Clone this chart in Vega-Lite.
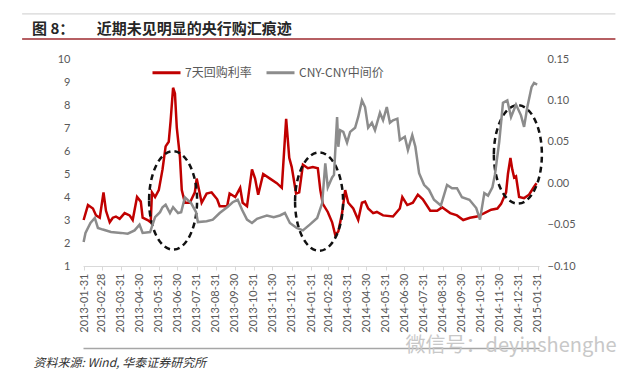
{
  "$schema": "https://vega.github.io/schema/vega-lite/v6.json",
  "width": 456,
  "height": 207,
  "autosize": {"type": "none"},
  "padding": {"left": 83, "top": 59, "right": 101, "bottom": 111},
  "background": "white",
  "title": {
    "text": "图 8：\u3000\u3000近期未见明显的央行购汇痕迹",
    "anchor": "start",
    "frame": "group",
    "dx": -51,
    "offset": -24,
    "font": "Noto Sans CJK SC",
    "fontSize": 15,
    "fontWeight": "bold",
    "color": "#262626"
  },
  "datasets": {
    "red": [
      {"date":"2013-01-30","v":3.0},{"date":"2013-02-06","v":3.65},{"date":"2013-02-14","v":3.5},{"date":"2013-02-19","v":3.2},{"date":"2013-02-25","v":3.1},{"date":"2013-03-03","v":4.2},{"date":"2013-03-07","v":3.4},{"date":"2013-03-13","v":2.9},{"date":"2013-03-18","v":3.1},{"date":"2013-03-23","v":3.15},{"date":"2013-03-29","v":3.05},{"date":"2013-04-06","v":3.3},{"date":"2013-04-14","v":3.2},{"date":"2013-04-19","v":3.0},{"date":"2013-04-26","v":4.0},{"date":"2013-05-02","v":3.8},{"date":"2013-05-05","v":3.1},{"date":"2013-05-13","v":3.0},{"date":"2013-05-18","v":2.9},{"date":"2013-05-20","v":4.2},{"date":"2013-05-25","v":4.0},{"date":"2013-05-31","v":4.3},{"date":"2013-06-06","v":5.2},{"date":"2013-06-11","v":6.2},{"date":"2013-06-16","v":6.4},{"date":"2013-06-19","v":7.3},{"date":"2013-06-23","v":8.75},{"date":"2013-06-26","v":8.5},{"date":"2013-06-29","v":7.0},{"date":"2013-07-04","v":5.75},{"date":"2013-07-07","v":4.3},{"date":"2013-07-12","v":3.75},{"date":"2013-07-20","v":3.75},{"date":"2013-07-28","v":4.2},{"date":"2013-07-31","v":4.8},{"date":"2013-08-08","v":3.75},{"date":"2013-08-16","v":4.15},{"date":"2013-08-24","v":4.2},{"date":"2013-09-02","v":3.9},{"date":"2013-09-06","v":3.6},{"date":"2013-09-18","v":3.6},{"date":"2013-09-22","v":4.15},{"date":"2013-10-01","v":4.0},{"date":"2013-10-09","v":4.4},{"date":"2013-10-13","v":3.75},{"date":"2013-10-20","v":3.6},{"date":"2013-10-28","v":5.2},{"date":"2013-11-02","v":4.8},{"date":"2013-11-07","v":4.1},{"date":"2013-11-15","v":5.0},{"date":"2013-11-26","v":4.8},{"date":"2013-12-07","v":4.6},{"date":"2013-12-15","v":4.4},{"date":"2013-12-22","v":7.4},{"date":"2013-12-27","v":5.7},{"date":"2013-12-31","v":5.3},{"date":"2014-01-07","v":4.15},{"date":"2014-01-12","v":4.2},{"date":"2014-01-18","v":5.4},{"date":"2014-01-26","v":5.25},{"date":"2014-02-03","v":5.3},{"date":"2014-02-11","v":5.25},{"date":"2014-02-15","v":4.3},{"date":"2014-02-19","v":3.7},{"date":"2014-02-27","v":3.35},{"date":"2014-03-06","v":2.9},{"date":"2014-03-11","v":2.35},{"date":"2014-03-16","v":2.5},{"date":"2014-03-22","v":3.3},{"date":"2014-03-27","v":4.3},{"date":"2014-04-01","v":3.75},{"date":"2014-04-09","v":3.5},{"date":"2014-04-17","v":3.0},{"date":"2014-04-23","v":3.75},{"date":"2014-04-28","v":3.8},{"date":"2014-05-03","v":3.5},{"date":"2014-05-11","v":3.3},{"date":"2014-05-17","v":3.35},{"date":"2014-05-27","v":3.2},{"date":"2014-06-12","v":3.15},{"date":"2014-06-23","v":3.5},{"date":"2014-06-27","v":4.0},{"date":"2014-07-05","v":3.65},{"date":"2014-07-14","v":3.75},{"date":"2014-07-22","v":4.1},{"date":"2014-07-30","v":3.9},{"date":"2014-08-11","v":3.4},{"date":"2014-08-22","v":3.4},{"date":"2014-08-30","v":3.55},{"date":"2014-09-12","v":3.3},{"date":"2014-09-23","v":3.2},{"date":"2014-10-03","v":3.0},{"date":"2014-10-14","v":3.1},{"date":"2014-10-25","v":3.15},{"date":"2014-11-06","v":3.3},{"date":"2014-11-17","v":3.45},{"date":"2014-11-27","v":3.5},{"date":"2014-12-03","v":3.7},{"date":"2014-12-11","v":4.2},{"date":"2014-12-14","v":5.0},{"date":"2014-12-18","v":5.7},{"date":"2014-12-21","v":5.2},{"date":"2014-12-24","v":4.85},{"date":"2014-12-27","v":4.9},{"date":"2015-01-01","v":4.0},{"date":"2015-01-09","v":3.95},{"date":"2015-01-17","v":4.1},{"date":"2015-01-24","v":4.4},{"date":"2015-01-29","v":4.6}
    ],
    "gray": [
      {"date":"2013-01-30","v":-0.071},{"date":"2013-02-02","v":-0.060},{"date":"2013-02-10","v":-0.048},{"date":"2013-02-17","v":-0.042},{"date":"2013-02-22","v":-0.054},{"date":"2013-03-02","v":-0.056},{"date":"2013-03-15","v":-0.059},{"date":"2013-03-31","v":-0.060},{"date":"2013-04-11","v":-0.061},{"date":"2013-04-22","v":-0.057},{"date":"2013-04-30","v":-0.050},{"date":"2013-05-05","v":-0.060},{"date":"2013-05-17","v":-0.059},{"date":"2013-05-25","v":-0.041},{"date":"2013-06-02","v":-0.035},{"date":"2013-06-06","v":-0.029},{"date":"2013-06-11","v":-0.026},{"date":"2013-06-18","v":-0.036},{"date":"2013-06-23","v":-0.029},{"date":"2013-07-01","v":-0.036},{"date":"2013-07-06","v":-0.035},{"date":"2013-07-12","v":-0.017},{"date":"2013-07-22","v":-0.024},{"date":"2013-07-30","v":-0.035},{"date":"2013-08-02","v":-0.047},{"date":"2013-08-16","v":-0.046},{"date":"2013-08-26","v":-0.044},{"date":"2013-09-06","v":-0.036},{"date":"2013-09-18","v":-0.029},{"date":"2013-09-27","v":-0.023},{"date":"2013-10-05","v":-0.020},{"date":"2013-10-12","v":-0.032},{"date":"2013-10-20","v":-0.044},{"date":"2013-10-28","v":-0.048},{"date":"2013-11-05","v":-0.043},{"date":"2013-11-13","v":-0.041},{"date":"2013-11-21","v":-0.039},{"date":"2013-12-02","v":-0.041},{"date":"2013-12-12","v":-0.039},{"date":"2013-12-20","v":-0.036},{"date":"2013-12-28","v":-0.048},{"date":"2014-01-08","v":-0.054},{"date":"2014-01-18","v":-0.057},{"date":"2014-01-29","v":-0.050},{"date":"2014-02-10","v":-0.042},{"date":"2014-02-18","v":-0.024},{"date":"2014-02-23","v":0.024},{"date":"2014-02-27","v":-0.005},{"date":"2014-03-06","v":0.007},{"date":"2014-03-09","v":0.010},{"date":"2014-03-14","v":0.080},{"date":"2014-03-16","v":0.044},{"date":"2014-03-19","v":0.064},{"date":"2014-03-24","v":0.062},{"date":"2014-03-30","v":0.049},{"date":"2014-04-04","v":0.062},{"date":"2014-04-12","v":0.067},{"date":"2014-04-17","v":0.080},{"date":"2014-04-23","v":0.100},{"date":"2014-04-28","v":0.092},{"date":"2014-05-03","v":0.067},{"date":"2014-05-09","v":0.073},{"date":"2014-05-14","v":0.064},{"date":"2014-05-22","v":0.085},{"date":"2014-05-27","v":0.076},{"date":"2014-06-02","v":0.092},{"date":"2014-06-07","v":0.073},{"date":"2014-06-12","v":0.076},{"date":"2014-06-19","v":0.078},{"date":"2014-06-23","v":0.052},{"date":"2014-07-01","v":0.056},{"date":"2014-07-06","v":0.040},{"date":"2014-07-13","v":0.058},{"date":"2014-07-18","v":0.044},{"date":"2014-07-24","v":0.012},{"date":"2014-08-01","v":-0.002},{"date":"2014-08-09","v":-0.008},{"date":"2014-08-17","v":-0.020},{"date":"2014-08-28","v":-0.027},{"date":"2014-09-07","v":-0.002},{"date":"2014-09-15","v":-0.006},{"date":"2014-09-23","v":-0.006},{"date":"2014-10-01","v":-0.017},{"date":"2014-10-13","v":-0.020},{"date":"2014-10-24","v":-0.030},{"date":"2014-10-30","v":-0.044},{"date":"2014-11-06","v":-0.012},{"date":"2014-11-12","v":-0.015},{"date":"2014-11-19","v":-0.005},{"date":"2014-11-23","v":0.010},{"date":"2014-11-30","v":0.050},{"date":"2014-12-06","v":0.097},{"date":"2014-12-13","v":0.100},{"date":"2014-12-19","v":0.080},{"date":"2014-12-27","v":0.095},{"date":"2015-01-04","v":0.082},{"date":"2015-01-09","v":0.068},{"date":"2015-01-14","v":0.091},{"date":"2015-01-21","v":0.116},{"date":"2015-01-25","v":0.121},{"date":"2015-01-30","v":0.119}
    ],
    "ell": [
      {"date":"2013-06-23","v":3.85},
      {"date":"2014-02-13","v":3.8},
      {"date":"2014-12-30","v":5.85}
    ]
  },
  "layer": [
    {
      "layer": [
        {
          "data": {"values": [{}]},
          "mark": {"type": "rule", "color": "#cccccc", "strokeWidth": 1},
          "encoding": {
            "x": {"datum": {"year": 2012, "month": 10, "date": 23, "utc": true}, "type": "temporal"},
            "x2": {"datum": {"year": 2015, "month": 6, "date": 5, "utc": true}},
            "y": {"datum": 11.96, "type": "quantitative"}
          }
        },
        {
          "data": {"values": [{}]},
          "mark": {"type": "rule", "color": "#9e2a2f", "strokeWidth": 1.5},
          "encoding": {
            "x": {"datum": {"year": 2012, "month": 10, "date": 23, "utc": true}, "type": "temporal"},
            "x2": {"datum": {"year": 2015, "month": 6, "date": 5, "utc": true}},
            "y": {"datum": 10.87, "type": "quantitative"}
          }
        },
        {
          "data": {"name": "red"},
          "mark": {"type": "line", "strokeWidth": 2.5},
          "encoding": {
            "x": {
              "field": "date", "type": "temporal",
              "scale": {"type": "utc", "domain": [{"year": 2013, "month": 1, "date": 29, "utc": true}, {"year": 2015, "month": 2, "date": 2, "utc": true}]},
              "axis": {
                "values": [
                  {"year":2013,"month":1,"date":31,"utc":true},{"year":2013,"month":2,"date":28,"utc":true},{"year":2013,"month":3,"date":31,"utc":true},{"year":2013,"month":4,"date":30,"utc":true},{"year":2013,"month":5,"date":31,"utc":true},{"year":2013,"month":6,"date":30,"utc":true},{"year":2013,"month":7,"date":31,"utc":true},{"year":2013,"month":8,"date":31,"utc":true},{"year":2013,"month":9,"date":30,"utc":true},{"year":2013,"month":10,"date":31,"utc":true},{"year":2013,"month":11,"date":30,"utc":true},{"year":2013,"month":12,"date":31,"utc":true},
                  {"year":2014,"month":1,"date":31,"utc":true},{"year":2014,"month":2,"date":28,"utc":true},{"year":2014,"month":3,"date":31,"utc":true},{"year":2014,"month":4,"date":30,"utc":true},{"year":2014,"month":5,"date":31,"utc":true},{"year":2014,"month":6,"date":30,"utc":true},{"year":2014,"month":7,"date":31,"utc":true},{"year":2014,"month":8,"date":31,"utc":true},{"year":2014,"month":9,"date":30,"utc":true},{"year":2014,"month":10,"date":31,"utc":true},{"year":2014,"month":11,"date":30,"utc":true},{"year":2014,"month":12,"date":31,"utc":true},
                  {"year":2015,"month":1,"date":31,"utc":true}
                ],
                "tickCount": 40,
                "format": "%Y-%m-%d",
                "labelAngle": -90,
                "labelOverlap": false,
                "labelFlush": false,
                "domainColor": "#d9d9d9",
                "domainWidth": 1,
                "tickColor": "#d9d9d9",
                "tickSize": 4,
                "labelPadding": 3,
                "title": "资料来源: Wind, 华泰证券研究所",
                "titleAnchor": "start",
                "titleAlign": "left",
                "titleBaseline": "middle",
                "titleAngle": 0,
                "titleX": -50,
                "titleY": 96,
                "titleFont": "Noto Sans CJK SC",
                "titleFontStyle": "italic",
                "titleFontWeight": "normal",
                "titleFontSize": 12,
                "titleColor": "#333333"
              }
            },
            "y": {
              "field": "v", "type": "quantitative",
              "scale": {"domain": [1, 10], "nice": false, "zero": false},
              "axis": {"values": [1,2,3,4,5,6,7,8,9,10], "tickCount": 20, "format": "d", "domain": false, "ticks": false, "labelOverlap": false, "labelPadding": 13, "title": null}
            },
            "color": {
              "datum": "7天回购利率", "type": "nominal",
              "scale": {"domain": ["7天回购利率", "CNY-CNY中间价"], "range": ["#C00000", "#8C8C8C"]},
              "legend": {
                "orient": "none", "legendX": 68, "legendY": -2, "direction": "horizontal", "title": null,
                "symbolType": "stroke", "symbolSize": 784, "symbolStrokeWidth": 3,
                "labelFont": "Noto Sans CJK SC", "labelFontSize": 12, "labelColor": "#595959",
                "columnPadding": 8, "labelOffset": 3, "padding": 0
              }
            }
          }
        },
        {
          "data": {"name": "ell"},
          "mark": {
            "type": "point",
            "shape": "M -1 0 A 1 2.05 0 1 0 1 0 A 1 2.05 0 1 0 -1 0 Z",
            "size": 2304, "filled": false, "stroke": "#111111", "strokeWidth": 2.5,
            "strokeDash": [6, 4], "opacity": 1
          },
          "encoding": {
            "x": {"field": "date", "type": "temporal"},
            "y": {"field": "v", "type": "quantitative"}
          }
        }
      ]
    },
    {
      "data": {"name": "gray"},
      "mark": {"type": "line", "strokeWidth": 2.5},
      "encoding": {
        "x": {
          "field": "date", "type": "temporal",
          "axis": {
            "orient": "bottom", "offset": 82, "labels": false, "ticks": false,
            "domain": true, "domainColor": "#a6a6a6", "domainWidth": 1.5, "title": null, "grid": false
          }
        },
        "y": {
          "field": "v", "type": "quantitative",
          "scale": {"domain": [-0.1, 0.15], "nice": false, "zero": false},
          "axis": {
            "orient": "right", "values": [-0.1, -0.05, 0, 0.05, 0.1, 0.15], "tickCount": 20, "format": ".2f",
            "domain": false, "ticks": false, "labelOverlap": false, "labelPadding": 8,
            "title": "微信号：deyinshenghe", "titleAngle": 0, "titleAlign": "left", "titleBaseline": "middle",
            "titleX": -134, "titleY": 286, "titleFont": "Noto Sans CJK SC", "titleFontSize": 20,
            "titleFontWeight": "normal", "titleColor": "#c8c8c8"
          }
        },
        "color": {"datum": "CNY-CNY中间价", "type": "nominal"}
      }
    }
  ],
  "resolve": {"scale": {"y": "independent"}, "axis": {"x": "independent"}},
  "config": {
    "view": {"stroke": null},
    "axis": {"labelFont": "Lato", "labelColor": "#595959", "labelFontSize": 11, "grid": false, "labelOverlap": false}
  }
}
